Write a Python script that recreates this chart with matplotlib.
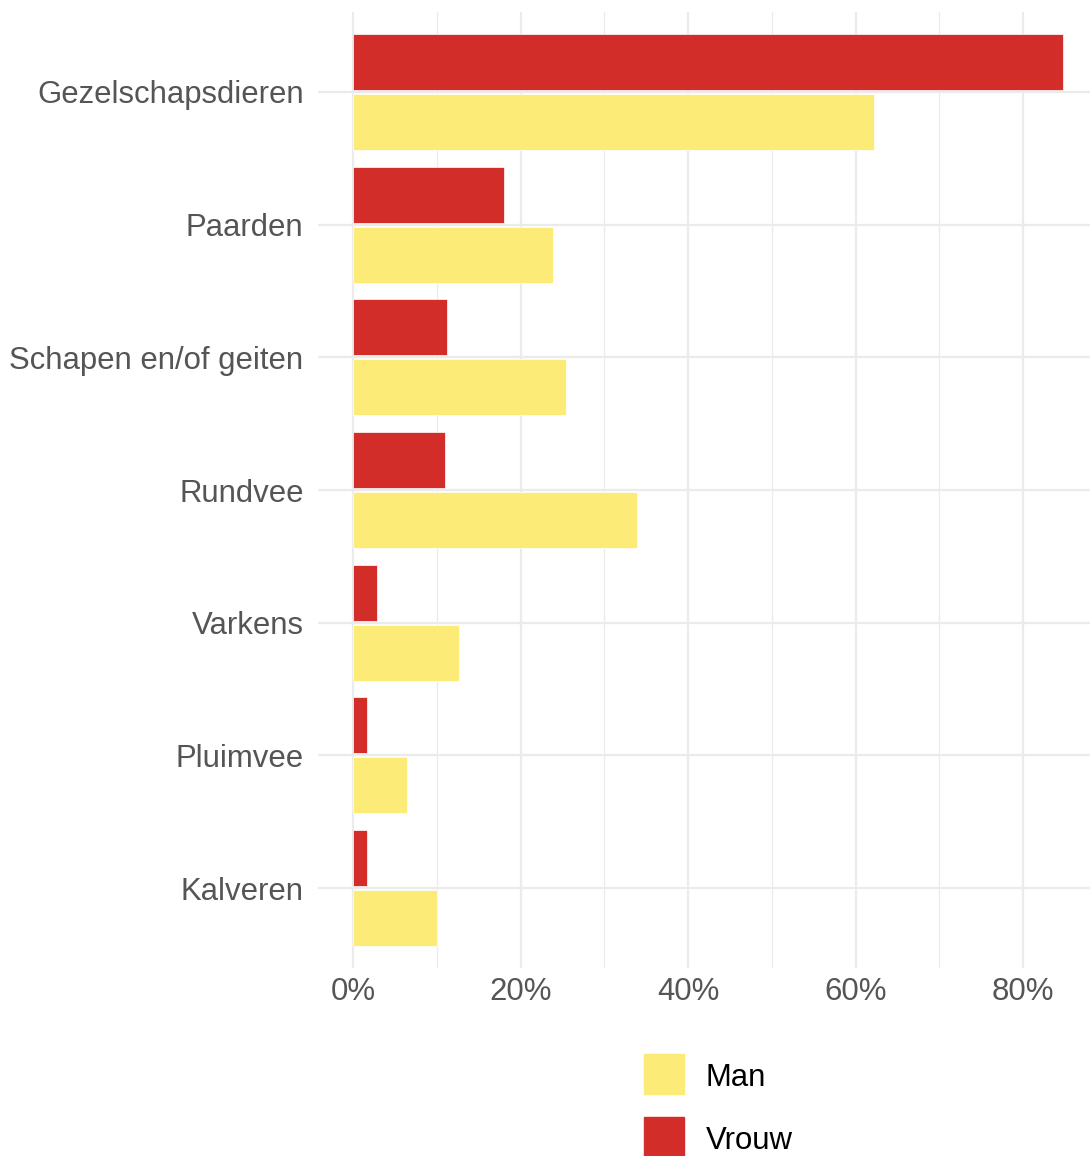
import numpy as np
import matplotlib.pyplot as plt
from matplotlib.patches import Rectangle

plt.rcParams['font.family'] = ['Liberation Sans', 'DejaVu Sans']

categorieen = ['Gezelschapsdieren', 'Paarden', 'Schapen en/of geiten', 'Rundvee',
               'Varkens', 'Pluimvee', 'Kalveren']
vrouw = [84.8, 18.0, 11.2, 11.0, 2.9, 1.7, 1.7]
man = [62.2, 23.9, 25.4, 33.9, 12.7, 6.4, 10.0]
groepen = ['Man', 'Vrouw']
kleuren = {'Man': '#FDEB77', 'Vrouw': '#D32D2A'}

W, H = 1090, 1156
fig = plt.figure(figsize=(W / 100, H / 100), dpi=100)
ax = fig.add_axes([317.5 / W, 1 - 967.6 / H, (W - 317.5) / W, 955.2 / H])

y = np.arange(len(categorieen))
hoogte = 0.42
ax.barh(y - 0.226, vrouw, height=hoogte, color=kleuren['Vrouw'],
        edgecolor='white', linewidth=0.5, zorder=3)
ax.barh(y + 0.226, man, height=hoogte, color=kleuren['Man'],
        edgecolor='white', linewidth=0.5, zorder=3)

ax.set_xlim(-4.24, 88.0)
ax.set_ylim(len(categorieen) - 0.4, -0.6)
ax.set_yticks(y)
ax.set_yticklabels(categorieen, va='center_baseline')
ax.set_xticks([0, 20, 40, 60, 80])
ax.set_xticklabels(['0%', '20%', '40%', '60%', '80%'])
ax.set_xticks([10, 30, 50, 70], minor=True)

ax.grid(True, which='major', color='#ebebeb', linewidth=1.6, zorder=0)
ax.grid(True, which='minor', axis='x', color='#ebebeb', linewidth=0.9, zorder=0)
for s in ax.spines.values():
    s.set_visible(False)
ax.tick_params(which='both', length=0)
ax.tick_params(axis='y', labelsize=22.4, labelcolor='#555555', pad=10)
ax.tick_params(axis='x', labelsize=22.4, labelcolor='#555555', pad=7)

# legenda onderaan
for i, g in enumerate(groepen):
    top = 1054 + i * 63
    fig.patches.append(Rectangle((644 / W, 1 - (top + 40) / H), 40 / W, 40 / H,
                                 transform=fig.transFigure, color=kleuren[g],
                                 figure=fig))
    fig.text(706 / W, 1 - (top + 24) / H, g, fontsize=22.4, color='black',
             va='center', ha='left')

fig.savefig('out.png', dpi=100)
